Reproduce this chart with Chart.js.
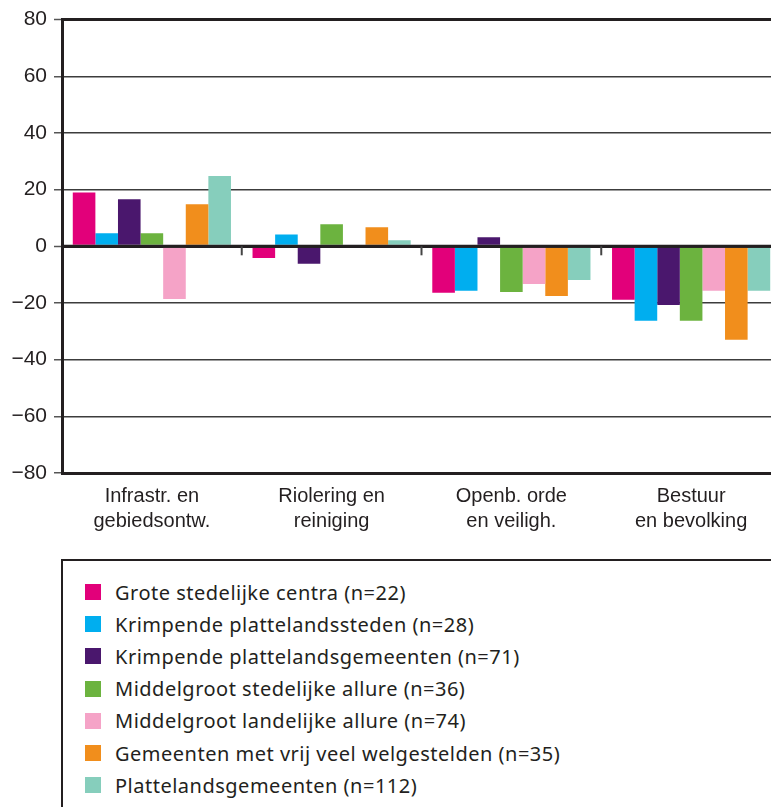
<!DOCTYPE html>
<html>
<head>
<meta charset="utf-8">
<script src="https://cdn.jsdelivr.net/npm/chart.js@4.4.1/dist/chart.umd.min.js"></script>
<style>
  html, body { margin: 0; padding: 0; background: #fff; overflow: hidden; }
  #wrap { position: relative; width: 790px; height: 545px; }
  #legend {
    position: absolute; left: 61px; top: 559px; width: 760px; height: 300px;
    border: 2px solid #231f20; box-sizing: border-box; padding-top: 15px;
    font-family: "Noto Sans", Arial, sans-serif; font-size: 20px; letter-spacing: 0.5px; color: #231f20;
  }
  .item { height: 32.2px; display: flex; align-items: center; }
  .swatch { width: 16px; height: 16px; margin-left: 22px; margin-right: 14px; }
</style>
</head>
<body>
<div id="wrap"><canvas id="chart" width="790" height="545"></canvas></div>
<div id="legend"></div>
<script>
// categories and series
const categories = [
    ['Infrastr. en', 'gebiedsontw.'],
    ['Riolering en', 'reiniging'],
    ['Openb. orde', 'en veiligh.'],
    ['Bestuur', 'en bevolking']
];

const groteSteden      = [19.0, -4.1, -16.4, -18.9];
const krimpSteden      = [4.6, 4.2, -15.7, -26.3];
const krimpGemeenten   = [16.6, -6.2, 3.2, -20.7];
const middelStedelijk  = [4.6, 7.8, -16.1, -26.3];
const middelLandelijk  = [-18.6, 0, -13.3, -15.7];
const welgesteld       = [14.8, 6.7, -17.5, -33.0];
const platteland       = [24.8, 2.1, -11.9, -15.7];

const seriesLabels = [
    'Grote stedelijke centra (n=22)',
    'Krimpende plattelandssteden (n=28)',
    'Krimpende plattelandsgemeenten (n=71)',
    'Middelgroot stedelijke allure (n=36)',
    'Middelgroot landelijke allure (n=74)',
    'Gemeenten met vrij veel welgestelden (n=35)',
    'Plattelandsgemeenten (n=112)'
];
const seriesColors = ['#E2007A', '#00AEEF', '#4A176D', '#6CB33F', '#F5A3C7', '#F18E1C', '#86CEBC'];
const seriesValues = [groteSteden, krimpSteden, krimpGemeenten, middelStedelijk, middelLandelijk, welgesteld, platteland];

const yTicks = [-80, -60, -40, -20, 0, 20, 40, 60, 80];

const INK = '#231f20';

// zero line on top of the bars, plus the small category ticks under it
const zeroLinePlugin = {
    id: 'zeroLine',
    afterDatasetsDraw(chart) {
        const { ctx, chartArea, scales } = chart;
        const y0 = scales.y.getPixelForValue(0);
        ctx.save();
        ctx.strokeStyle = INK;
        ctx.lineWidth = 3;
        ctx.beginPath();
        ctx.moveTo(chartArea.left, y0);
        ctx.lineTo(chartArea.right, y0);
        ctx.stroke();
        ctx.lineWidth = 2;
        ctx.strokeStyle = '#444';
        for (let i = 1; i < categories.length; i++) {
            const x = (scales.x.getPixelForTick(i - 1) + scales.x.getPixelForTick(i)) / 2;
            ctx.beginPath();
            ctx.moveTo(x, y0);
            ctx.lineTo(x, y0 + 9);
            ctx.stroke();
        }
        ctx.restore();
    }
};

const ctx = document.getElementById('chart').getContext('2d');

new Chart(ctx, {
    type: 'bar',
    data: {
        labels: categories,
        datasets: seriesValues.map((vals, i) => ({
            label: seriesLabels[i],
            data: vals,
            backgroundColor: seriesColors[i],
            borderWidth: 0,
            categoryPercentage: 0.88,
            barPercentage: 1.0
        }))
    },
    options: {
        responsive: false,
        devicePixelRatio: 1,
        animation: false,
        layout: { padding: { top: 19, right: 9, left: 0, bottom: 0 } },
        plugins: {
            legend: { display: false },
            tooltip: { enabled: false }
        },
        scales: {
            x: {
                afterFit: scale => { scale.height = 72; },
                grid: { display: false, drawTicks: false },
                border: { display: true, color: INK, width: 3 },
                ticks: {
                    color: INK,
                    padding: 11,
                    maxRotation: 0,
                    font: { family: 'Arial, "Liberation Sans", sans-serif', size: 20, lineHeight: 1.25 }
                }
            },
            y: {
                min: -80,
                max: 80,
                afterFit: scale => { scale.width = 62; },
                afterBuildTicks: scale => { scale.ticks = yTicks.map(v => ({ value: v })); },
                border: { display: true, color: INK, width: 3 },
                grid: {
                    color: c => (c.tick.value === 80 || c.tick.value === 0) ? INK : '#3c3c3c',
                    lineWidth: c => (c.tick.value === 80 || c.tick.value === 0) ? 3 : 1.5,
                    tickLength: 8,
                    tickColor: '#555',
                    tickWidth: 1.5
                },
                ticks: {
                    color: INK,
                    padding: 7,
                    font: { family: 'Arial, "Liberation Sans", sans-serif', size: 21 },
                    callback: v => v < 0 ? '\u2212' + Math.abs(v) : String(v)
                }
            }
        }
    },
    plugins: [zeroLinePlugin]
});

// legend box below the chart
const legend = document.getElementById('legend');
seriesLabels.forEach((label, i) => {
    const row = document.createElement('div');
    row.className = 'item';
    row.innerHTML = '<span class="swatch" style="background:' + seriesColors[i] + '"></span><span>' + label + '</span>';
    legend.appendChild(row);
});
</script>
</body>
</html>
